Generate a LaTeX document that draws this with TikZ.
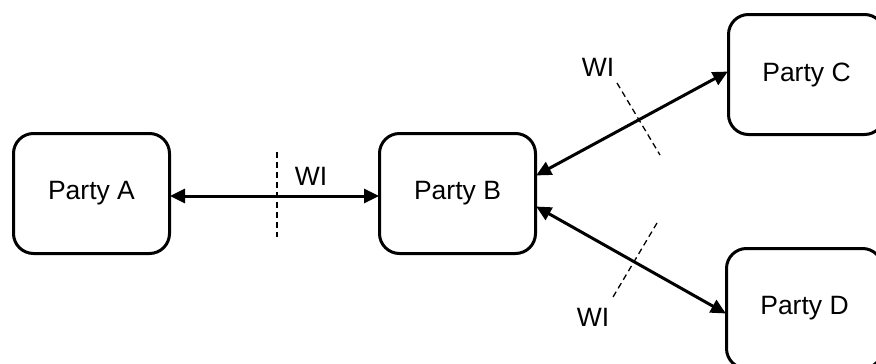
\documentclass[tikz,border=0pt]{standalone}
\usepackage{fontspec}
\setmainfont{Liberation Sans}
\usetikzlibrary{arrows.meta}
\begin{document}
\begin{tikzpicture}[x=1pt,y=-1pt,
  party/.style={draw, line width=3pt, rounded corners=20pt, minimum width=156pt, minimum height=120pt, inner sep=0pt, font=\fontsize{26.5}{30}\selectfont},
  link/.style={line width=3pt, {Triangle[length=15pt 0 0,width=14pt 0 0]}-{Triangle[length=15pt 0 0,width=14pt 0 0]}, shorten <=-1pt, shorten >=-1pt},
  cut/.style={line width=1.3pt, dash pattern=on 6pt off 4pt},
  wi/.style={inner sep=0pt, font=\fontsize{26.5}{30}\selectfont}]
\useasboundingbox (0,0) rectangle (876,364);
\begin{scope}
\clip (0,0) rectangle (876,364);
\node[party] (A) at (91.5,193.5) {Party A};
\node[party] (B) at (457.5,193.5) {Party B};
\node[party] (C) at (806.5,74.5) {Party C};
\node[party] (D) at (804.5,308.5) {Party D};
\draw[link] ([yshift=-2.5pt]A.east) -- ([yshift=-2.5pt]B.west);
\draw[link] ([yshift=18.5pt]B.east) -- ([yshift=2.5pt]C.west);
\draw[link] ([yshift=-13.5pt]B.east) -- ([yshift=-4.5pt]D.west);
\coordinate (c1a) at (277,152); \coordinate (c1b) at (277,237);
\coordinate (c2a) at (617,83);  \coordinate (c2b) at (660,155);
\coordinate (c3a) at (657,223); \coordinate (c3b) at (613,297);
\draw[cut] (c1a) -- (c1b);
\draw[cut] (c2a) -- (c2b);
\draw[cut] (c3a) -- (c3b);
\node[wi] (w1) at (311,176) {WI};
\node[wi] (w2) at (598,67) {WI};
\node[wi] (w3) at (593,317.5) {WI};
\end{scope}
\end{tikzpicture}
\end{document}
